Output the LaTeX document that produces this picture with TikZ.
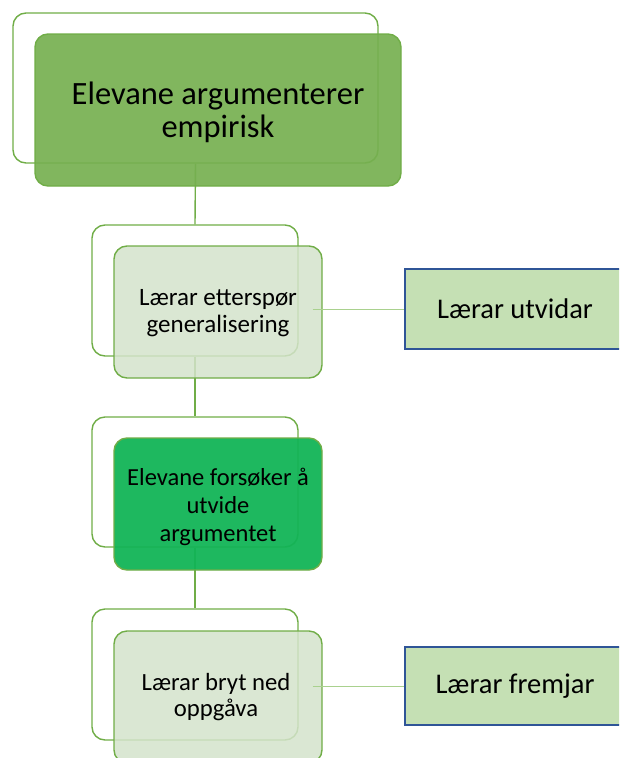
\documentclass[tikz,border=0pt]{standalone}
\usepackage{fontspec}
\setmainfont{Carlito}
\definecolor{frameGreen}{RGB}{112,173,71}
\definecolor{topFill}{RGB}{118,176,80}
\definecolor{paleFill}{RGB}{212,227,203}
\definecolor{brightFill}{RGB}{18,180,86}
\definecolor{sideFill}{RGB}{197,224,180}
\definecolor{sideEdge}{RGB}{47,85,151}
\definecolor{thinLink}{RGB}{169,209,142}
\tikzset{
  backframe/.style={draw=frameGreen, line width=1.4pt, rounded corners=13pt, fill=none},
  levelbox/.style={draw=frameGreen, line width=1.4pt, rounded corners=13pt, fill opacity=0.92, text opacity=1, align=center},
  sidebox/.style={draw=sideEdge, line width=1.3pt, fill=sideFill, align=center},
  uplink/.style={draw=frameGreen, line width=1.4pt},
  sidelink/.style={draw=thinLink, line width=1pt},
}
\begin{document}
\begin{tikzpicture}[x=1pt, y=-1pt]
\useasboundingbox (0,0) rectangle (619,758);
\clip (0,0) rectangle (619,758);
% back outlines
\node[backframe, minimum width=365pt, minimum height=150pt] (o1) at (195.5,88) {};
\node[backframe, minimum width=206pt, minimum height=131pt] (o2) at (195,290.5) {};
\node[backframe, minimum width=206pt, minimum height=130pt] (o3) at (195,482) {};
\node[backframe, minimum width=206pt, minimum height=131pt] (o4) at (195,674.5) {};
% vertical links
\draw[uplink] (o1.south) -- (o2.north);
\draw[uplink] (o2.south) -- (o3.north);
\draw[uplink] (o3.south) -- (o4.north);
% main level boxes
\node[levelbox, fill=topFill, minimum width=366pt, minimum height=152pt, font=\fontsize{32.5}{33}\selectfont] (f1) at (218,110) {};
\node[font=\fontsize{32.5}{33}\selectfont, align=center] (t1) at (218,112) {Elevane argumenterer\\empirisk};
\node[levelbox, fill=paleFill, fill opacity=0.85, minimum width=208pt, minimum height=132pt, font=\fontsize{25}{27}\selectfont] (f2) at (218,312) {};
\node[font=\fontsize{25}{27}\selectfont, align=center] (t2) at (218,313) {Lærar etterspør\\generalisering};
\node[levelbox, fill=brightFill, fill opacity=0.95, minimum width=208pt, minimum height=132pt] (f3) at (218,504) {};
\node[font=\fontsize{24.5}{28}\selectfont, align=center] (t3) at (218,507) {Elevane forsøker å\\utvide\\argumentet};
\node[levelbox, fill=paleFill, fill opacity=0.85, minimum width=208pt, minimum height=132pt] (f4) at (218,697) {};
\node[font=\fontsize{24.7}{26}\selectfont, align=center] (t4) at (216,697) {Lærar bryt ned\\oppgåva};
% side boxes
\node[sidebox, minimum width=220pt, minimum height=80pt, font=\fontsize{28.5}{30}\selectfont] (u1) at (515,309) {Lærar utvidar};
\node[sidebox, minimum width=220pt, minimum height=78pt, font=\fontsize{28.5}{30}\selectfont] (u2) at (515,686) {Lærar fremjar};
% side links
\draw[sidelink] ([xshift=-10pt]u1.west -| f2.east) -- (u1.west);
\draw[sidelink] ([xshift=-10pt]u2.west -| f4.east) -- (u2.west);
\end{tikzpicture}
\end{document}
